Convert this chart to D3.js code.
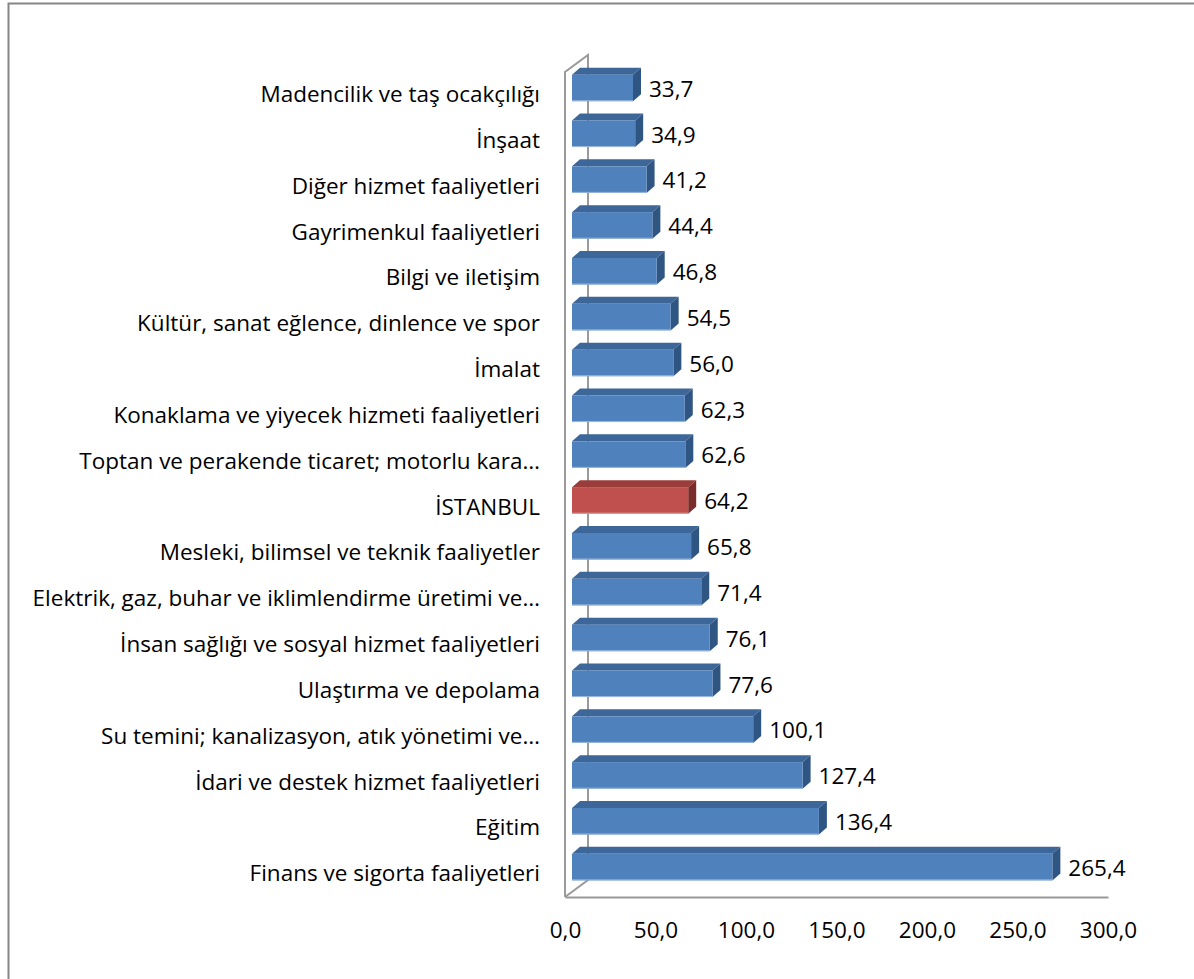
<!DOCTYPE html>
<html><head><meta charset="utf-8">
<script src="https://cdn.jsdelivr.net/npm/d3@7"></script>
<style>
body{margin:0;background:#fff;}
svg{display:block;}
text{font-family:"Open Sans",sans-serif;fill:#000;}
</style></head>
<body>
<svg id="c" width="1194" height="979"></svg>
<script>
const categories = [
  "Madencilik ve taş ocakçılığı",
  "İnşaat",
  "Diğer hizmet faaliyetleri",
  "Gayrimenkul faaliyetleri",
  "Bilgi ve iletişim",
  "Kültür, sanat eğlence, dinlence ve spor",
  "İmalat",
  "Konaklama ve yiyecek hizmeti faaliyetleri",
  "Toptan ve perakende ticaret; motorlu kara…",
  "İSTANBUL",
  "Mesleki, bilimsel ve teknik faaliyetler",
  "Elektrik, gaz, buhar ve iklimlendirme üretimi ve…",
  "İnsan sağlığı ve sosyal hizmet faaliyetleri",
  "Ulaştırma ve depolama",
  "Su temini; kanalizasyon, atık yönetimi ve…",
  "İdari ve destek hizmet faaliyetleri",
  "Eğitim",
  "Finans ve sigorta faaliyetleri"
];
const values = [33.7, 34.9, 41.2, 44.4, 46.8, 54.5, 56.0, 62.3, 62.6, 64.2, 65.8, 71.4, 76.1, 77.6, 100.1, 127.4, 136.4, 265.4];
const highlight = ["İSTANBUL"];
const xTicks = [0, 50, 100, 150, 200, 250, 300];

const svg = d3.select("#c");
const fmt = v => d3.format(".1f")(v).replace(".", ",");

// outer frame
svg.append("rect").attr("x", 8.5).attr("y", 3.5).attr("width", 1300).attr("height", 1100)
  .attr("fill", "none").attr("stroke", "#868686").attr("stroke-width", 2);

const x = d3.scaleLinear().domain([0, 300]).range([565, 1108]);
const y = d3.scaleBand().domain(categories).range([72, 897]).paddingInner(0.42).paddingOuter(0.21);

// 3D walls
const wallDx = 23, wallDy = -17;
const yTop = y.range()[0], yBot = y.range()[1], x0 = x(0);
const wall = svg.append("g").attr("fill", "none").attr("stroke", "#9a9a9a").attr("stroke-width", 2);
wall.append("path").attr("d",
  `M${x0},${yBot}L${x0},${yTop}L${x0+wallDx},${yTop+wallDy}L${x0+wallDx},${yBot+wallDy}L${x0},${yBot}`);

// bottom axis (floor front edge)
const xAxis = svg.append("g").attr("transform", `translate(0,${yBot})`)
  .call(d3.axisBottom(x).tickValues(xTicks).tickFormat(fmt).tickSize(0).tickPadding(25));
xAxis.select(".domain").attr("stroke", "#9a9a9a").attr("stroke-width", 2);
xAxis.selectAll("text").attr("font-size", 22.5).attr("font-family", "Open Sans").attr("fill", "#000");

// left category axis
const yAxis = svg.append("g").attr("transform", `translate(${x0},0)`)
  .call(d3.axisLeft(y).tickSize(0).tickPadding(25));
yAxis.select(".domain").remove();
yAxis.selectAll("text").attr("font-size", 22.5).attr("font-family", "Open Sans").attr("fill", "#000").attr("dy", "0.32em");

// bars (3D)
const offX = 7, offY = -7, dX = 8, dY = -7;
const colors = {
  normal: {front: "#4F81BD", top: "#3D6699", side: "#2F5583"},
  hi: {front: "#C0504D", top: "#9A3C39", side: "#7B2D2B"}
};
const data = categories.map((c, i) => ({c, v: values[i], hi: highlight.includes(c)}));
const bars = svg.append("g").selectAll("g").data(data).join("g");
bars.each(function(d) {
  const g = d3.select(this);
  const col = d.hi ? colors.hi : colors.normal;
  const xl = x(0) + offX, xr = x(d.v) + offX;
  const yt = y(d.c) + offY, yb = yt + y.bandwidth();
  g.append("path").attr("fill", col.top)
    .attr("d", `M${xl},${yt}L${xl+dX},${yt+dY}L${xr+dX},${yt+dY}L${xr},${yt}Z`);
  g.append("path").attr("fill", col.side)
    .attr("d", `M${xr},${yt}L${xr+dX},${yt+dY}L${xr+dX},${yb+dY}L${xr},${yb}Z`);
  g.append("rect").attr("x", xl).attr("y", yt).attr("width", xr - xl).attr("height", yb - yt)
    .attr("fill", col.front);
  g.append("line").attr("x1", xl).attr("x2", xr).attr("y1", yb - 0.5).attr("y2", yb - 0.5)
    .attr("stroke", d.hi ? "#d9a3a1" : "#9db8dc").attr("stroke-width", 1);
  g.append("text").attr("x", xr + dX + 8).attr("y", yt + y.bandwidth() / 2 + 1)
    .attr("dy", "0.35em").attr("font-size", 22.5).text(fmt(d.v));
});
</script>
</body></html>
